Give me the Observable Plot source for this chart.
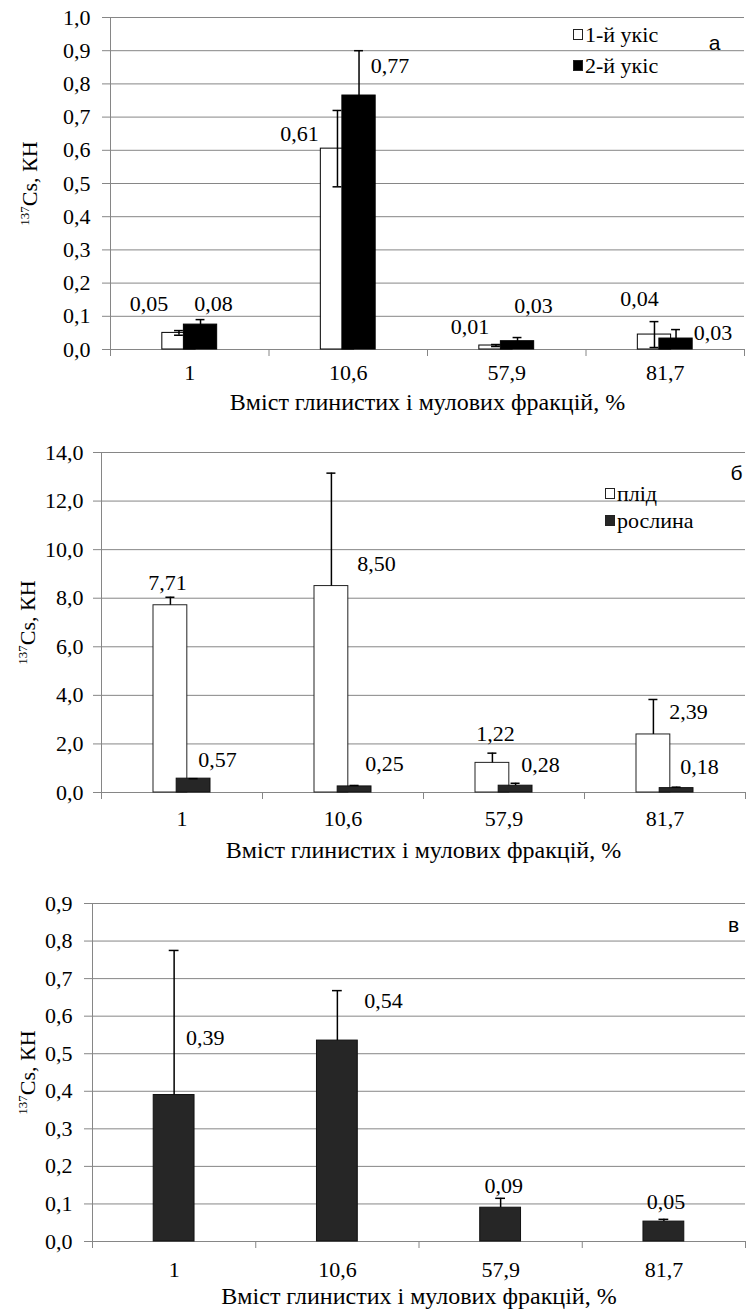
<!DOCTYPE html>
<html>
<head>
<meta charset="utf-8">
<script src="https://cdn.jsdelivr.net/npm/d3@7"></script>
<script src="https://cdn.jsdelivr.net/npm/@observablehq/plot@0.6"></script>
</head>
<body style="margin:0;background:#fff">
<div id="root" style="position:relative;width:747px;height:1310px;overflow:hidden">
<div id="pa" style="position:absolute;left:0;top:0px;width:747px"></div>
<div id="pb" style="position:absolute;left:0;top:420px;width:747px"></div>
<div id="pv" style="position:absolute;left:0;top:865px;width:747px"></div>
</div>
<script>
// ---------- shared ----------
const categories = ["1", "10,6", "57,9", "81,7"];
const xTitle = "Вміст глинистих і мулових фракцій, %";
const yTitle = "137Cs, КН";

// ---------- panel а ----------
const aTag = "а";
const aNames = ["1-й укіс", "2-й укіс"];
const aCut1 = [0.050, 0.605, 0.012, 0.045];
const aCut1Err = [0.007, 0.115, 0.003, 0.039];
const aCut1Labels = ["0,05", "0,61", "0,01", "0,04"];
const aCut2 = [0.075, 0.765, 0.025, 0.033];
const aCut2Err = [0.015, 0.135, 0.011, 0.027];
const aCut2Labels = ["0,08", "0,77", "0,03", "0,03"];
const aYTicks = [0, 0.1, 0.2, 0.3, 0.4, 0.5, 0.6, 0.7, 0.8, 0.9, 1.0];

// ---------- panel б ----------
const bTag = "б";
const bNames = ["плід", "рослина"];
const bFruit = [7.71, 8.50, 1.22, 2.39];
const bFruitErr = [0.33, 4.65, 0.40, 1.44];
const bFruitLabels = ["7,71", "8,50", "1,22", "2,39"];
const bPlant = [0.57, 0.25, 0.28, 0.18];
const bPlantErr = [0.00, 0.04, 0.10, 0.04];
const bPlantLabels = ["0,57", "0,25", "0,28", "0,18"];
const bYTicks = [0, 2, 4, 6, 8, 10, 12, 14];

// ---------- panel в ----------
const vTag = "в";
const vPlant = [0.39, 0.535, 0.09, 0.053];
const vPlantErr = [0.385, 0.133, 0.025, 0.006];
const vPlantLabels = ["0,39", "0,54", "0,09", "0,05"];
const vYTicks = [0, 0.1, 0.2, 0.3, 0.4, 0.5, 0.6, 0.7, 0.8, 0.9];

// label nudges (px) relative to the bar's centre / top
const aNudge1 = {dx: [-30, -38, -26, -15], dy: [-29, -15, -19, -36]};
const aNudge2 = {dx: [13, 31, 16, 37], dy: [-21, -30, -35, -6]};
const bNudge1 = {dx: [-3, 45, 3, 35], dy: [-22, -22, -29, -23]};
const bNudge2 = {dx: [24, 30, 25, 23], dy: [-19, -22, -21, -21]};
const vNudge = {dx: [31, 46, 3, 2], dy: [-57, -40, -22, -20]};

const GRID = "#868686";
const SERIF = "Liberation Serif";
const SANS = "Liberation Sans";
const fmt1 = d => d.toFixed(1).replace(".", ",");

function rowsFor(values, errs, labels, nudge, offset, barW, bothWays) {
  return values.map((v, i) => ({
    xc: i + 0.5 + offset,
    x1: i + 0.5 + offset - barW / 2,
    x2: i + 0.5 + offset + barW / 2,
    v,
    lo: bothWays ? v - errs[i] : v,
    hi: v + errs[i],
    label: labels[i],
    dx: nudge.dx[i],
    dy: nudge.dy[i]
  }));
}

function drawPanel(cfg) {
  const {host, height, margin, yDomain, yTicks, series, capHalf, xTickPad, yTickPad, titleDy, yLabelDx, tag, tagDx, tagDy} = cfg;
  const marks = [
    Plot.gridY(yTicks, {stroke: GRID, strokeOpacity: 1, strokeWidth: 1}),
    Plot.ruleX([0], {stroke: GRID, strokeWidth: 1}),
    Plot.axisY(yTicks, {tickSize: 8, tickPadding: yTickPad, tickFormat: fmt1, stroke: GRID, fill: "#000", label: null, fontSize: 22, fontFamily: SERIF, fontVariant: "normal"}),
    Plot.axisX([0, 1, 2, 3, 4], {tickSize: 7, tickFormat: () => "", stroke: GRID, label: null}),
    Plot.axisX([0.5, 1.5, 2.5, 3.5], {tickSize: 0, tickPadding: xTickPad, tickFormat: d => categories[Math.round(d - 0.5)], fill: "#000", label: null, fontSize: 22, fontFamily: SERIF, fontVariant: "normal"})
  ];
  for (const s of series) {
    marks.push(Plot.rect(s.rows, {x1: "x1", x2: "x2", y1: 0, y2: "v", fill: s.fill, stroke: s.stroke, strokeWidth: 1}));
    marks.push(Plot.ruleX(s.rows, {x: "xc", y1: "lo", y2: "hi", stroke: "#000", strokeWidth: 1.5}));
    marks.push(Plot.ruleY(s.rows, {y: "hi", x1: d => d.xc - capHalf, x2: d => d.xc + capHalf, stroke: "#000", strokeWidth: 1.5}));
    if (s.bothWays) marks.push(Plot.ruleY(s.rows, {y: "lo", x1: d => d.xc - capHalf, x2: d => d.xc + capHalf, stroke: "#000", strokeWidth: 1.5}));
  }
  for (const s of series) {
    for (const r of s.rows) {
      marks.push(Plot.text([r], {x: "xc", y: "v", text: "label", dx: r.dx, dy: r.dy, fontSize: 22, fontFamily: SERIF, fill: "#000", textAnchor: "middle", lineAnchor: "middle"}));
    }
  }
  marks.push(Plot.text([xTitle], {frameAnchor: "bottom", text: d => d, dy: titleDy, fontSize: 24, fontFamily: SERIF, fill: "#000", textAnchor: "middle", lineAnchor: "middle"}));
  marks.push(Plot.text([yTitle], {frameAnchor: "left", text: d => d, dx: yLabelDx, rotate: -90, fontSize: 22, fontFamily: SERIF, fill: "#000", textAnchor: "middle", lineAnchor: "middle"}));
  marks.push(Plot.text([tag], {frameAnchor: "top-right", text: d => d, dx: tagDx, dy: tagDy, fontSize: 21, fontFamily: SANS, fill: "#000", textAnchor: "middle", lineAnchor: "middle"}));

  const svg = Plot.plot({
    width: 747,
    height,
    marginTop: margin[0], marginRight: margin[1], marginBottom: margin[2], marginLeft: margin[3],
    x: {type: "linear", domain: [0, 4], axis: null},
    y: {domain: yDomain, axis: null},
    style: {fontFamily: SERIF, fontSize: "22px", background: "transparent", overflow: "visible"},
    marks
  });
  const ns = "http://www.w3.org/2000/svg";
  svg.querySelectorAll("text").forEach(t => {
    if (t.textContent === yTitle) {
      t.textContent = "";
      const a = document.createElementNS(ns, "tspan");
      a.setAttribute("font-size", "13");
      a.setAttribute("dy", "-8");
      a.textContent = "137";
      const b = document.createElementNS(ns, "tspan");
      b.setAttribute("dy", "8");
      b.textContent = "Cs, КН";
      t.appendChild(a); t.appendChild(b);
    }
    t.style.fontFamily = t.textContent === tag ? SANS : SERIF;
  });
  document.getElementById(host).appendChild(svg);
}

function addLegend(host, left, top, lineH, items) {
  const div = document.createElement("div");
  div.style.position = "absolute";
  div.style.left = left + "px";
  div.style.top = top + "px";
  div.style.fontFamily = SERIF;
  div.style.fontSize = "22px";
  div.style.color = "#000";
  items.forEach(it => {
    const row = document.createElement("div");
    row.style.display = "flex";
    row.style.alignItems = "center";
    row.style.whiteSpace = "nowrap";
    row.style.height = lineH + "px";
    const sw = document.createElement("span");
    sw.style.display = "inline-block";
    sw.style.width = "8px";
    sw.style.height = "9px";
    sw.style.border = "1px solid #222";
    sw.style.marginRight = "2px";
    sw.style.background = it.fill;
    row.appendChild(sw);
    row.appendChild(document.createTextNode(it.name));
    div.appendChild(row);
  });
  document.getElementById(host).appendChild(div);
}

// ---- panel а ----
drawPanel({
  host: "pa", height: 420, margin: [17, 3, 71, 110],
  yDomain: [0, 1.0], yTicks: aYTicks, capHalf: 0.028,
  xTickPad: 15, yTickPad: 12, titleDy: 53, yLabelDx: -81,
  tag: aTag, tagDx: -30, tagDy: 26,
  series: [
    {rows: rowsFor(aCut1, aCut1Err, aCut1Labels, aNudge1, -0.068, 0.21, true), fill: "#fff", stroke: "#000", bothWays: true},
    {rows: rowsFor(aCut2, aCut2Err, aCut2Labels, aNudge2, 0.068, 0.21, true), fill: "#000", stroke: "#000", bothWays: true}
  ]
});
addLegend("pa", 573, 19, 31, [{name: aNames[0], fill: "#fff"}, {name: aNames[1], fill: "#000"}]);

// ---- panel б ----
drawPanel({
  host: "pb", height: 445, margin: [32, 2, 73, 101],
  yDomain: [0, 14], yTicks: bYTicks, capHalf: 0.028,
  xTickPad: 18, yTickPad: 10, titleDy: 58, yLabelDx: -74,
  tag: bTag, tagDx: -9, tagDy: 21,
  series: [
    {rows: rowsFor(bFruit, bFruitErr, bFruitLabels, bNudge1, -0.072, 0.21, false), fill: "#fff", stroke: "#222", bothWays: false},
    {rows: rowsFor(bPlant, bPlantErr, bPlantLabels, bNudge2, 0.072, 0.21, false), fill: "#262626", stroke: "#111", bothWays: false}
  ]
});
addLegend("pb", 605, 60, 27, [{name: bNames[0], fill: "#fff"}, {name: bNames[1], fill: "#262626"}]);

// ---- panel в ----
drawPanel({
  host: "pv", height: 445, margin: [38, 2, 69, 92],
  yDomain: [0, 0.9], yTicks: vYTicks, capHalf: 0.03,
  xTickPad: 20, yTickPad: 12, titleDy: 55, yLabelDx: -65,
  tag: vTag, tagDx: -12, tagDy: 22,
  series: [
    {rows: rowsFor(vPlant, vPlantErr, vPlantLabels, vNudge, 0, 0.25, false), fill: "#262626", stroke: "#111", bothWays: false}
  ]
});
</script>
</body>
</html>
